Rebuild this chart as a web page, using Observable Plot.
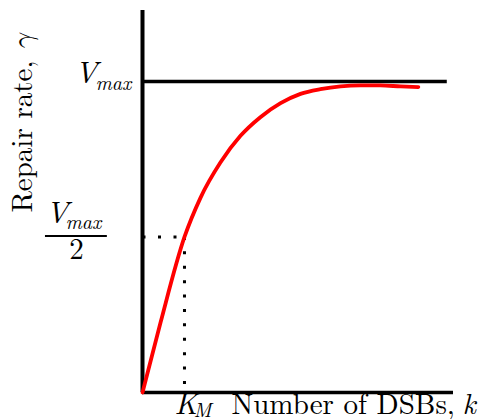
<!DOCTYPE html>
<html>
<head>
<meta charset="utf-8">
<script src="https://cdn.jsdelivr.net/npm/d3@7"></script>
<script src="https://cdn.jsdelivr.net/npm/@observablehq/plot@0.6"></script>
<style>
  html, body { margin: 0; padding: 0; background: #fff; }
  svg { display: block; }
</style>
</head>
<body>
<div id="chart"></div>
<script>
// Michaelis–Menten style repair-rate curve
const kValues     = [0, 0.58, 1.35, 1.86, 2.51, 3.15, 3.79, 4.44, 5.08, 5.72, 6.37, 7.01, 7.65, 8.30, 8.87];
const gammaValues = [0, 0.225, 0.5, 0.625, 0.74, 0.825, 0.885, 0.93, 0.96, 0.975, 0.984, 0.987, 0.987, 0.984, 0.982];

const Vmax = 1;        // saturation rate
const KM = 1.35;       // half-saturation constant
const xMax = 10;       // x-axis extent
const yTop = 1.228;    // y-axis extent
const vmaxLineEnd = 9.8;

const curve = kValues.map((k, i) => ({k, gamma: gammaValues[i]}));

const serif = "'Latin Modern Roman', 'Liberation Serif', serif";
const greek = "'Latin Modern Math', 'Latin Modern Roman', 'Liberation Serif', serif";
const ink = "#000";

// shared text options
const label = (o) => ({text: d => d, textAnchor: "start", lineAnchor: "bottom", fontFamily: serif, fill: ink, ...o});

const chart = Plot.plot({
  width: 480,
  height: 419,
  marginLeft: 142,
  marginRight: 27,
  marginTop: 10,
  marginBottom: 27,
  x: {domain: [0, xMax], axis: null},
  y: {domain: [0, yTop], axis: null},
  style: {fontFamily: serif, background: "#fff", overflow: "visible", color: ink},
  marks: [
    // dotted guides at (KM, Vmax/2)
    Plot.line([[0, Vmax / 2], [KM, Vmax / 2]], {
      stroke: ink, strokeWidth: 3, strokeDasharray: "3,12.5", strokeLinecap: "butt"
    }),
    Plot.line([[KM, Vmax / 2], [KM, 0]], {
      stroke: ink, strokeWidth: 3, strokeDasharray: "3,11.4", strokeLinecap: "butt"
    }),
    // saturation level
    Plot.ruleY([Vmax], {x1: 0, x2: vmaxLineEnd, stroke: ink, strokeWidth: 3.5}),
    // axes
    Plot.ruleX([0], {stroke: ink, strokeWidth: 4}),
    Plot.ruleY([0], {stroke: ink, strokeWidth: 3.5}),
    // repair-rate curve
    Plot.line(curve, {x: "k", y: "gamma", stroke: "#f00", strokeWidth: 3.8, curve: "monotone-x"}),

    // V_max tick label
    Plot.text(["V"], label({x: 0, y: Vmax, dx: -68, dy: 2, fontSize: 31, fontStyle: "italic"})),
    Plot.text(["max"], label({x: 0, y: Vmax, dx: -47, dy: 9, fontSize: 20, fontStyle: "italic"})),

    // V_max / 2 tick label
    Plot.text(["V"], label({x: 0, y: Vmax / 2, dx: -97, dy: -14, fontSize: 31, fontStyle: "italic"})),
    Plot.text(["max"], label({x: 0, y: Vmax / 2, dx: -77, dy: -8, fontSize: 20, fontStyle: "italic"})),
    Plot.ruleY([Vmax / 2], {x1: -3.12, x2: -1.13, dy: -1, stroke: ink, strokeWidth: 2}),
    Plot.text(["2"], label({x: 0, y: Vmax / 2, dx: -66, dy: 22, textAnchor: "middle", fontSize: 29})),

    // x-axis: K_M tick label and title
    Plot.text(["K"], label({x: KM, y: 0, dx: -10, dy: 21, fontSize: 30, fontStyle: "italic"})),
    Plot.text(["M"], label({x: KM, y: 0, dx: 9, dy: 24, fontSize: 20, fontStyle: "italic"})),
    Plot.text(["Number of DSBs,"], label({x: 0, y: 0, dx: 89, dy: 21, fontSize: 29})),
    Plot.text(["k"], label({x: 0, y: 0, dx: 320, dy: 21, fontSize: 29, fontStyle: "italic"})),

    // y-axis title
    Plot.text(["Repair rate,"], label({x: 0, y: 0, dx: -120, dy: -180, rotate: -90, lineAnchor: "middle", fontSize: 29})),
    Plot.text(["γ"], label({x: 0, y: 0, dx: -120, dy: -342, rotate: -90, lineAnchor: "middle", fontSize: 29,
      fontStyle: "italic", fontFamily: greek}))
  ]
});

document.getElementById("chart").append(chart);
</script>
</body>
</html>
